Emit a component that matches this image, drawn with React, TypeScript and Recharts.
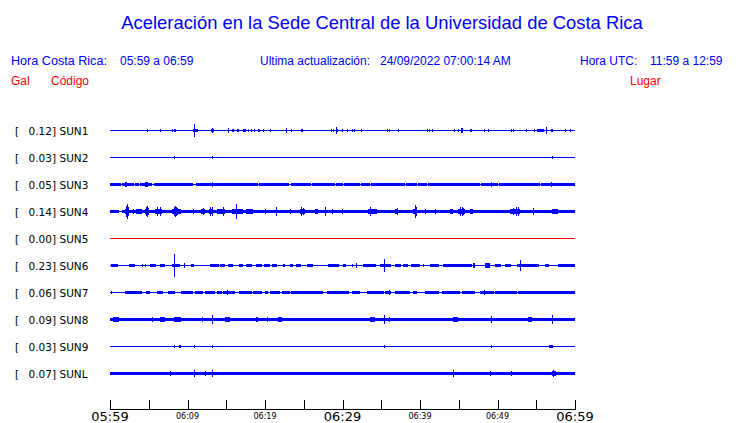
import { ComposedChart, Area, XAxis, YAxis } from "recharts";

// [inicio (min), fin (min), semiamplitud (fracción de fila)]; inicio === fin -> pico de una muestra
type Evento = [number, number, number];

const codes = ["SUN1", "SUN2", "SUN3", "SUN4", "SUN5", "SUN6", "SUN7", "SUN8", "SUN9", "SUNL"];
const peaks = [0.12, 0.03, 0.05, 0.14, 0.0, 0.23, 0.06, 0.09, 0.03, 0.07];
const places = [
  "CIMAR",
  "Ingenieria P01",
  "Ingenieria P06",
  "EBCI",
  "Rectoria",
  "Agroalimentarias",
  "Archivo",
  "Electrica P06",
  "Electrica P01",
  "LANAMME-CTT",
];
// ruido de fondo de cada traza
const noise = [0.0185, 0.0185, 0.062, 0.062, 0.0185, 0.0185, 0.0185, 0.062, 0.0185, 0.062];

const tickMinutes = [0, 5, 10, 15, 20, 25, 30, 35, 40, 45, 50, 55, 60];
const tickLabels = ["05:59", "", "06:09", "", "06:19", "", "06:29", "", "06:39", "", "06:49", "", "06:59"];

const sun1: Evento[] = [
  [4.8, 4.8, 0.05], [6.5, 6.5, 0.05], [8.0, 8.0, 0.05], [8.3, 8.5, 0.055], [10.7, 11.3, 0.055],
  [10.9, 10.9, 0.235], [13.0, 13.4, 0.055], [13.2, 13.2, 0.11], [15.2, 15.2, 0.1], [15.8, 16.0, 0.05],
  [16.4, 16.6, 0.05], [17.2, 17.5, 0.055], [17.8, 17.8, 0.05], [18.2, 18.2, 0.05], [18.6, 18.6, 0.05],
  [19.1, 19.3, 0.055], [19.8, 19.8, 0.05], [20.6, 20.6, 0.05], [22.0, 22.0, 0.03], [22.7, 22.7, 0.09],
  [23.4, 23.4, 0.05], [24.6, 24.9, 0.05], [28.5, 28.5, 0.05], [28.8, 28.8, 0.05], [29.1, 29.1, 0.12],
  [29.3, 29.3, 0.05], [29.9, 29.9, 0.05], [30.6, 30.6, 0.05], [31.2, 31.2, 0.05], [31.5, 31.5, 0.05],
  [32.4, 32.4, 0.05], [35.7, 35.7, 0.05], [36.0, 36.0, 0.05], [37.2, 37.3, 0.05], [40.9, 40.9, 0.05],
  [41.2, 41.2, 0.05], [41.5, 41.5, 0.05], [44.4, 44.4, 0.05], [44.9, 44.9, 0.05], [45.3, 45.5, 0.085],
  [46.4, 46.4, 0.05], [46.6, 46.6, 0.05], [48.3, 48.3, 0.05], [48.8, 48.8, 0.05], [50.8, 50.8, 0.03],
  [51.8, 51.8, 0.05], [52.0, 52.0, 0.05], [53.7, 53.7, 0.05], [54.7, 54.7, 0.05], [55.1, 56.0, 0.055],
  [56.2, 56.2, 0.12], [56.9, 57.1, 0.05], [58.7, 58.9, 0.05], [59.3, 59.3, 0.05],
];

const sun2: Evento[] = [[8.2, 8.2, 0.05], [11.8, 11.8, 0.035], [13.2, 13.2, 0.05], [57.0, 57.1, 0.055]];

const sun3: Evento[] = [
  [0, 1.3, 0.074], [1.4, 1.6, 0.02], [1.9, 2.2, 0.086], [3.1, 3.2, 0.02], [3.7, 3.7, 0.02],
  [4.5, 4.9, 0.086], [5.4, 5.7, 0.02], [10.75, 11.05, 0.02], [13.2, 13.2, 0.1], [19.1, 19.1, 0.02],
  [23.1, 23.3, 0.02], [25.9, 26.1, 0.02], [29.0, 29.0, 0.02], [30.0, 30.2, 0.02], [32.2, 32.2, 0.02],
  [33.6, 33.6, 0.02], [38.0, 38.2, 0.02], [39.6, 39.8, 0.02], [40.9, 40.9, 0.02], [47.7, 47.7, 0.02],
  [49.2, 49.2, 0.086], [50.1, 50.1, 0.02], [55.5, 55.5, 0.02], [56.9, 56.9, 0.1],
];

const sun4: Evento[] = [
  [0, 1.1, 0.07], [1.1, 1.6, 0.02], [1.6, 1.9, 0.074], [1.9, 2.45, 0.1], [2.0, 2.0, 0.2],
  [2.15, 2.15, 0.27], [2.3, 2.3, 0.18], [3.0, 3.0, 0.11], [3.4, 4.1, 0.086], [4.5, 5.0, 0.09],
  [4.6, 4.6, 0.15], [4.75, 4.75, 0.2], [4.9, 4.9, 0.12], [5.8, 6.7, 0.086], [6.0, 6.0, 0.185],
  [6.45, 6.45, 0.185], [7.1, 7.5, 0.074], [8.0, 9.2, 0.086], [8.2, 8.2, 0.15], [8.35, 8.35, 0.21],
  [8.5, 8.5, 0.18], [8.7, 8.7, 0.12], [10.75, 10.75, 0.086], [11.8, 12.3, 0.086], [12.0, 12.0, 0.135],
  [12.8, 13.3, 0.1], [12.95, 12.95, 0.185], [13.1, 13.1, 0.15], [13.8, 14.8, 0.086], [14.1, 14.1, 0.11],
  [14.6, 14.6, 0.17], [15.7, 17.1, 0.086], [16.3, 16.3, 0.27], [17.6, 18.5, 0.086], [18.0, 18.0, 0.1],
  [20.0, 20.0, 0.086], [21.4, 21.4, 0.16], [23.2, 23.2, 0.086], [24.5, 25.2, 0.086], [24.7, 24.7, 0.15],
  [24.95, 24.95, 0.12], [26.5, 26.9, 0.086], [26.7, 26.7, 0.1], [27.7, 27.7, 0.16], [28.6, 28.6, 0.1],
  [29.9, 29.9, 0.086], [33.3, 34.4, 0.086], [33.5, 33.5, 0.17], [33.9, 33.9, 0.11], [36.8, 37.2, 0.086],
  [37.0, 37.0, 0.135], [39.1, 39.6, 0.1], [39.3, 39.3, 0.245], [39.45, 39.45, 0.17], [40.6, 40.6, 0.11],
  [41.9, 41.9, 0.1], [43.9, 44.3, 0.086], [44.1, 44.1, 0.11], [44.9, 45.8, 0.1], [45.1, 45.1, 0.185],
  [45.4, 45.4, 0.15], [45.6, 45.6, 0.12], [46.5, 46.9, 0.086], [46.7, 46.7, 0.11], [49.5, 51.0, 0.074],
  [51.6, 52.9, 0.086], [52.0, 52.0, 0.12], [52.4, 52.4, 0.15], [52.7, 52.7, 0.17], [54.6, 54.6, 0.12],
  [57.0, 57.8, 0.086], [59.6, 60, 0.074],
];

const sun5: Evento[] = [];

const sun6: Evento[] = [
  [0.1, 1.0, 0.05], [2.4, 3.2, 0.05], [4.1, 4.1, 0.04], [4.5, 4.5, 0.04], [5.2, 5.9, 0.05],
  [6.45, 7.1, 0.05], [8.0, 9.0, 0.062], [8.3, 8.3, 0.43], [9.5, 9.5, 0.1], [10.4, 10.8, 0.05],
  [12.9, 14.0, 0.05], [14.2, 14.8, 0.05], [15.2, 15.9, 0.05], [16.6, 17.2, 0.05], [17.6, 18.3, 0.05],
  [18.9, 19.6, 0.05], [19.9, 20.6, 0.05], [20.9, 21.5, 0.062], [22.3, 22.6, 0.05], [23.2, 23.6, 0.05],
  [24.0, 24.7, 0.05], [25.4, 26.2, 0.062], [28.1, 29.5, 0.074], [30.1, 30.4, 0.05], [31.2, 31.4, 0.04],
  [31.7, 31.7, 0.11], [32.7, 34.3, 0.05], [34.8, 36.3, 0.062], [35.4, 35.4, 0.235], [36.8, 37.6, 0.05],
  [37.8, 38.5, 0.05], [38.9, 40.0, 0.05], [40.4, 40.4, 0.04], [41.3, 42.4, 0.05], [43.0, 46.7, 0.05],
  [46.9, 47.1, 0.086], [48.4, 49.0, 0.086], [49.7, 50.5, 0.05], [51.0, 51.8, 0.05], [52.5, 55.3, 0.062],
  [52.9, 52.9, 0.2], [56.1, 56.6, 0.074], [57.8, 60, 0.05],
];

const sun7: Evento[] = [
  [0.1, 0.1, 0.04], [1.9, 4.1, 0.055], [4.7, 5.2, 0.05], [6.0, 6.9, 0.062], [7.5, 8.4, 0.055],
  [9.2, 10.75, 0.055], [11.0, 12.0, 0.055], [12.3, 13.5, 0.062], [13.8, 14.4, 0.055], [14.6, 16.1, 0.062],
  [15.05, 15.05, 0.086], [16.6, 18.3, 0.055], [18.5, 19.6, 0.055], [20.0, 20.4, 0.055], [20.7, 21.9, 0.055],
  [22.2, 23.2, 0.055], [23.4, 27.5, 0.055], [28.0, 30.8, 0.055], [31.2, 32.3, 0.055], [33.1, 35.3, 0.055],
  [35.5, 36.3, 0.062], [36.0, 36.0, 0.11], [36.8, 38.7, 0.055], [39.1, 39.6, 0.055], [40.6, 42.4, 0.055],
  [41.7, 41.7, 0.074], [42.8, 45.2, 0.055], [45.4, 47.1, 0.055], [47.7, 49.5, 0.062], [48.3, 48.3, 0.11],
  [49.7, 52.5, 0.055], [52.7, 60, 0.06],
];

const sun8: Evento[] = [
  [0.4, 1.1, 0.086], [2.15, 2.15, 0.074], [3.9, 3.9, 0.074], [5.4, 5.4, 0.086], [6.45, 7.1, 0.086],
  [8.3, 9.2, 0.1], [11.9, 11.9, 0.086], [13.2, 13.2, 0.15], [14.9, 15.5, 0.086], [16.5, 16.5, 0.074],
  [17.25, 17.25, 0.074], [18.8, 19.1, 0.086], [20.3, 20.3, 0.086], [21.7, 22.15, 0.086], [22.9, 22.9, 0.074],
  [26.9, 26.9, 0.074], [28.0, 28.0, 0.074], [29.2, 29.2, 0.074], [30.7, 30.7, 0.074], [33.6, 34.2, 0.086],
  [34.6, 35.05, 0.074], [35.4, 35.4, 0.185], [36.0, 36.0, 0.1], [37.1, 37.1, 0.074], [38.1, 38.1, 0.074],
  [39.5, 39.5, 0.074], [42.4, 42.4, 0.074], [43.1, 43.1, 0.074], [44.3, 44.9, 0.086], [45.7, 45.7, 0.074],
  [46.5, 46.5, 0.074], [47.1, 47.1, 0.074], [49.1, 49.1, 0.123], [50.5, 51.6, 0.074], [53.9, 54.4, 0.086],
  [55.3, 55.3, 0.074], [56.0, 56.0, 0.074], [57.0, 57.0, 0.15], [57.9, 60, 0.074],
];

const sun9: Evento[] = [
  [5.5, 5.5, 0.035], [8.2, 8.2, 0.04], [8.9, 9.1, 0.05], [10.9, 10.9, 0.04], [11.8, 11.8, 0.035],
  [13.2, 13.2, 0.05], [15.4, 15.4, 0.035], [19.1, 19.1, 0.035], [21.85, 21.85, 0.035], [24.7, 24.7, 0.035],
  [34.2, 34.2, 0.035], [35.3, 35.5, 0.05], [45.7, 45.7, 0.035], [49.1, 49.1, 0.04], [50.75, 50.75, 0.035],
  [52.8, 52.8, 0.035], [56.6, 57.2, 0.074], [58.6, 58.6, 0.035],
];

const sunL: Evento[] = [
  [7.8, 7.8, 0.1], [10.9, 10.9, 0.123], [12.3, 12.3, 0.1], [13.2, 13.2, 0.136], [36.4, 36.4, 0.074],
  [44.2, 44.2, 0.123], [49.0, 49.0, 0.1], [51.7, 51.7, 0.1], [57.0, 57.6, 0.1], [57.2, 57.2, 0.136],
];

const traces = [sun1, sun2, sun3, sun4, sun5, sun6, sun7, sun8, sun9, sunL];

const SPIKE = 0.13; // una muestra ~ 1 px

const endOf = ([s, e]: Evento) => (e > s ? e : s + SPIKE);

// todos los puntos de quiebre de todas las trazas
const breaks = Array.from(
  new Set([0, 60, ...traces.flatMap((ev) => ev.flatMap((x) => [x[0], Math.min(60, endOf(x))]))])
).sort((a, b) => a - b);

const data = breaks.map((t) => {
  const row: Record<string, number | number[]> = { t };
  traces.forEach((ev, i) => {
    let half = noise[i];
    let hit = false;
    let m = 0;
    ev.forEach((x) => {
      if (t >= x[0] && t < endOf(x)) {
        hit = true;
        m = Math.max(m, x[2]);
      }
    });
    if (hit) half = m;
    row["s" + i] = [i - half, i + half];
  });
  return row;
});

const blue = "#0000ff";
const red = "#ff0000";
const dejavu = "DejaVu Sans, sans-serif";
const helv = "Liberation Sans, Arial, sans-serif";

function TimeTick(props: any) {
  const { x, y, payload } = props;
  const idx = tickMinutes.indexOf(payload.value);
  const label = tickLabels[idx] || "";
  const big = payload.value % 30 === 0;
  const xx = Math.round(x) + 0.5;
  return (
    <g>
      <line x1={xx} x2={xx} y1={y - 10} y2={y} stroke="#000" shapeRendering="crispEdges" />
      {label && (
        <text
          x={x}
          y={y + 7}
          textAnchor="middle"
          dominantBaseline="central"
          fontFamily={dejavu}
          fontSize={big ? 13 : 8}
          fill="#000"
        >
          {label}
        </text>
      )}
    </g>
  );
}

function LeftTick(props: any) {
  const { y, payload } = props;
  const i = payload.value;
  return (
    <g fontFamily={dejavu} fontSize={10.5} fill="#000">
      <text x={15} y={y} dominantBaseline="central">[</text>
      <text x={56} y={y} textAnchor="end" dominantBaseline="central">
        {peaks[i].toFixed(2)}]
      </text>
      <text x={59.5} y={y} dominantBaseline="central">{codes[i]}</text>
    </g>
  );
}

function RightTick(props: any) {
  const { y, payload } = props;
  return (
    <text x={587} y={y} dominantBaseline="central" fontFamily={dejavu} fontSize={10.5} fill="#000">
      {places[payload.value]}
    </text>
  );
}

export default function App() {
  const rows = codes.map((_, i) => i);
  return (
    <div style={{ position: "absolute", left: 0, top: 0, width: 740, height: 423, background: "#fff" }}>
      <svg width={740} height={100} style={{ position: "absolute", left: 0, top: 0 }}>
        <text x={382} y={22} textAnchor="middle" dominantBaseline="central" fontFamily={helv} fontSize={18.4} fill={blue}>
          Aceleración en la Sede Central de la Universidad de Costa Rica
        </text>
        <g fontFamily={helv} fontSize={12} fill={blue}>
          <text x={11} y={61} dominantBaseline="central" fontSize={12.6}>Hora Costa Rica:</text>
          <text x={120} y={61} dominantBaseline="central">05:59 a 06:59</text>
          <text x={260} y={61} dominantBaseline="central">Ultima actualización:</text>
          <text x={380} y={61} dominantBaseline="central">24/09/2022 07:00:14 AM</text>
          <text x={580} y={61} dominantBaseline="central">Hora UTC:</text>
          <text x={650} y={61} dominantBaseline="central">11:59 a 12:59</text>
        </g>
        <g fontFamily={helv} fontSize={12} fill={red}>
          <text x={11} y={81} dominantBaseline="central">Gal</text>
          <text x={51} y={81} dominantBaseline="central">Código</text>
          <text x={630} y={81} dominantBaseline="central">Lugar</text>
        </g>
      </svg>
      <div style={{ position: "absolute", left: 0, top: 0 }}>
        <ComposedChart
          width={740}
          height={423}
          data={data}
          margin={{ top: 117, right: 0, bottom: 0, left: 0 }}
          style={{ overflow: "visible" }}
        >
          <XAxis
            dataKey="t"
            type="number"
            domain={[0, 60]}
            ticks={tickMinutes}
            interval={0}
            height={13.5}
            tickLine={false}
            tickSize={0}
            tickMargin={0}
            tick={<TimeTick />}
            axisLine={{ stroke: "#000" }}
          />
          <YAxis
            yAxisId="left"
            type="number"
            domain={[-0.5, 10.3333]}
            reversed
            ticks={rows}
            interval={0}
            width={110}
            axisLine={false}
            tickLine={false}
            tick={<LeftTick />}
          />
          <YAxis
            yAxisId="right"
            orientation="right"
            type="number"
            domain={[-0.5, 10.3333]}
            reversed
            ticks={rows}
            interval={0}
            width={165}
            axisLine={false}
            tickLine={false}
            tick={<RightTick />}
          />
          {codes.map((c, i) => (
            <Area
              key={c}
              yAxisId="left"
              dataKey={"s" + i}
              type="stepAfter"
              stroke="none"
              fill={peaks[i] === 0 ? red : blue}
              fillOpacity={1}
              isAnimationActive={false}
              shapeRendering="crispEdges"
            />
          ))}
        </ComposedChart>
      </div>
    </div>
  );
}
